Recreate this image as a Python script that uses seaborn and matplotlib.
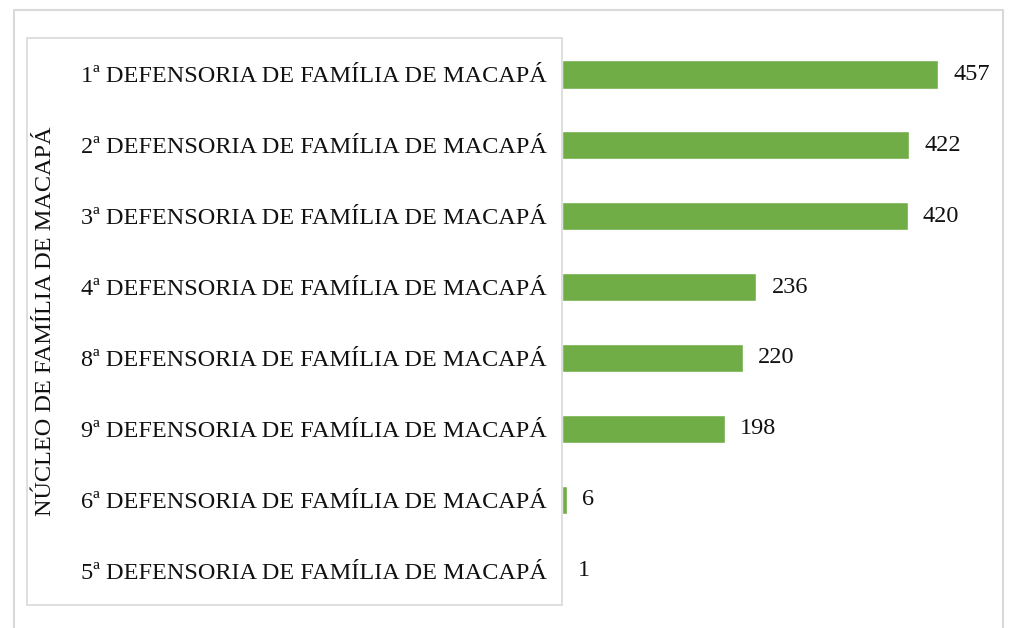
#!/usr/bin/env python3
"""Atendimentos por defensoria - Núcleo de Família de Macapá"""
import matplotlib
matplotlib.use('Agg')
import matplotlib.pyplot as plt
import seaborn as sns
import pandas as pd
from matplotlib.patches import Rectangle

# Data
defensorias = [
    '1ª DEFENSORIA DE FAMÍLIA DE MACAPÁ',
    '2ª DEFENSORIA DE FAMÍLIA DE MACAPÁ',
    '3ª DEFENSORIA DE FAMÍLIA DE MACAPÁ',
    '4ª DEFENSORIA DE FAMÍLIA DE MACAPÁ',
    '8ª DEFENSORIA DE FAMÍLIA DE MACAPÁ',
    '9ª DEFENSORIA DE FAMÍLIA DE MACAPÁ',
    '6ª DEFENSORIA DE FAMÍLIA DE MACAPÁ',
    '5ª DEFENSORIA DE FAMÍLIA DE MACAPÁ',
]
valores = [457, 422, 420, 236, 220, 198, 6, 1]
y_title = 'NÚCLEO DE FAMÍLIA DE MACAPÁ'

sns.set_theme(style='white')
plt.rcParams['font.family'] = ['Liberation Serif', 'DejaVu Serif']

df = pd.DataFrame({'defensoria': defensorias, 'valor': valores})

W, H = 1011, 628
FS = 17.5
TXT = '#111111'
fig = plt.figure(figsize=(W / 100, H / 100), dpi=100)

# axes placed in pixel coords (left, top, right, bottom)
ax_l, ax_t, ax_r, ax_b = 562, 39, 1000, 606
ax = fig.add_axes([ax_l / W, 1 - ax_b / H, (ax_r - ax_l) / W, (ax_b - ax_t) / H])

sns.barplot(data=df, x='valor', y='defensoria', orient='h', color='#70ad47',
            width=0.4, saturation=1, ax=ax)

px_per_unit = (938 - 562) / 457
ax.set_xlim(0, (ax_r - ax_l) / px_per_unit)

for c in ax.containers:
    ax.bar_label(c, padding=11, fontsize=FS, color=TXT)

ax.set_xlabel('')
ax.set_ylabel('')
ax.set_xticks([])
ax.tick_params(axis='y', length=0, pad=11, labelsize=FS, labelcolor=TXT)
for s in ax.spines.values():
    s.set_visible(False)

# outer frame (bottom edge runs past the image) and label box
fig.patches.append(Rectangle((14 / W, 1 - 640 / H), (1003 - 14) / W, (640 - 10) / H,
                             transform=fig.transFigure, fill=False,
                             edgecolor='#d9d9d9', linewidth=1.5))
fig.patches.append(Rectangle((27 / W, 1 - 605 / H), (562 - 27) / W, (605 - 38) / H,
                             transform=fig.transFigure, fill=False,
                             edgecolor='#d9d9d9', linewidth=1.2))

fig.text(46 / W, 1 - 321 / H, y_title, rotation=90, ha='center', va='center',
         fontsize=FS, color=TXT)

fig.savefig('out.png', dpi=100, facecolor='white')
